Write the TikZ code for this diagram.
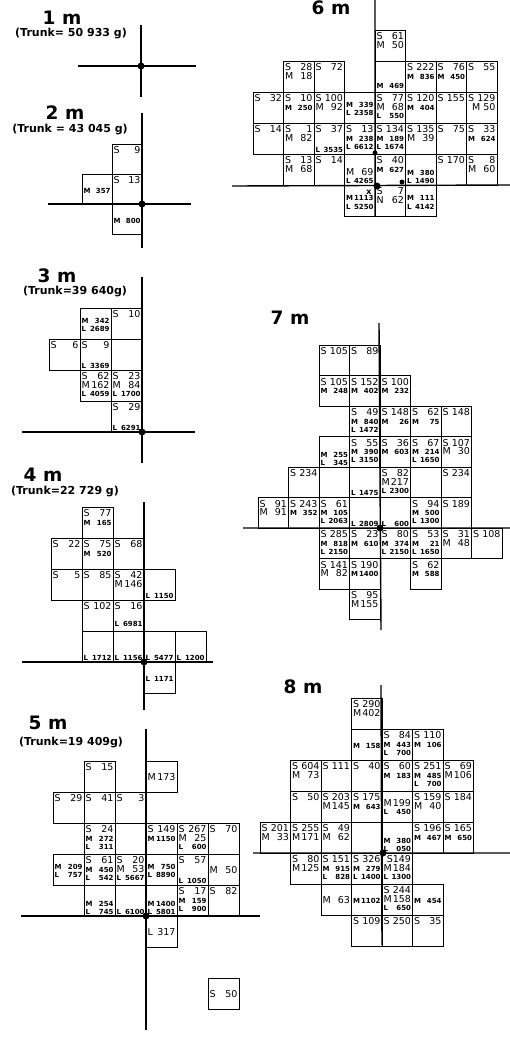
\documentclass[tikz,border=0pt]{standalone}
\usepackage{fontspec}
\setmainfont{DejaVu Sans}
\usetikzlibrary{positioning}

\newlength{\cellw}
\newlength{\cellh}
\newcommand{\sfn}{\fontsize{9.5}{9.5}\selectfont}
\newcommand{\mfn}{\fontsize{7}{7}\selectfont\bfseries}
\newcommand{\rw}[2]{\hbox to\linewidth{\sfn #1\hfil #2}}
\newcommand{\rs}[2]{\hbox to\linewidth{\mfn #1\hfil #2}}
% one square of the grid: [v-pos]{name}{column}{row}{lines}
\newcommand{\cell}[5][t]{%
  \node[cellbox] (#2) at ({#3+0.5},{#4+0.5})
    {\parbox[c][\cellh][#1]{\cellw}{\baselineskip=8.3pt\lineskiplimit=-20pt\null #5}};}

\begin{document}
\begin{tikzpicture}[x=1pt,y=-1pt,
  cellbox/.style={draw,line width=0.7pt,inner sep=1.5pt,outer sep=0pt,
    minimum width=\cellw+3pt,minimum height=\cellh+3pt},
  trunkline/.style={line width=1.4pt},
  trunkdot/.style={circle,fill,inner sep=0pt,minimum size=7pt},
  heading/.style={font=\fontsize{18.5}{19}\selectfont\bfseries,inner sep=0pt},
  trunknote/.style={font=\fontsize{11}{12}\selectfont\bfseries,inner sep=0pt}]

\useasboundingbox (0,0) rectangle (510,1042);
\clip (0,0) rectangle (510,1042);

% 1 m
\node[heading] (h1) at (62,18) {1 m};
\node[trunknote] (n1) at (71,34) {(Trunk= 50 933 g)};
\coordinate (t1a) at (141,25); \coordinate (t1b) at (141,97);
\coordinate (g1a) at (78,66); \coordinate (g1b) at (196,66);
\draw[trunkline] (t1a) -- (t1b) (g1a) -- (g1b);
\node[trunkdot] (d1) at (141,66) {};

% 2 m
\node[heading] (h2) at (65,113) {2 m};
\node[trunknote] (n2) at (70,130) {(Trunk = 43 045 g)};
\setlength{\cellw}{27pt}\setlength{\cellh}{27pt}
\begin{scope}[shift={(142,204)},x=30pt,y=30pt]
\cell{c2a}{-1}{1}{\rw{S}{9}}
\cell{c2b}{-1}{0}{\rw{S}{13}}
\cell[c]{c2c}{-2}{0}{\rs{M}{357}}
\cell[c]{c2d}{-1}{-1}{\rs{M}{800}}
\end{scope}
\coordinate (t2a) at (142,113); \coordinate (t2b) at (142,248);
\coordinate (g2a) at (48,204); \coordinate (g2b) at (191,204);
\draw[trunkline] (t2a) -- (t2b) (g2a) -- (g2b);
\node[trunkdot] (d2) at (142,204) {};

% 3 m
\node[heading] (h3) at (57,276) {3 m};
\node[trunknote] (n3) at (75,292) {(Trunk=39 640g)};
\setlength{\cellw}{28pt}\setlength{\cellh}{28pt}
\begin{scope}[shift={(142,432)},x=31pt,y=31pt]
\cell{c3a}{-1}{3}{\rw{S}{10}}
\cell[c]{c3b}{-2}{3}{\rs{M}{342}\rs{L}{2689}}
\cell{c3c}{-3}{2}{\rw{S}{6}}
\cell[s]{c3d}{-2}{2}{\rw{S}{9}\vfill\rs{L}{3369}}
\cell{c3e}{-1}{2}{}
\cell{c3f}{-2}{1}{\rw{S}{62}\rw{M}{162}\rs{L}{4059}}
\cell{c3g}{-1}{1}{\rw{S}{23}\rw{M}{84}\rs{L}{1700}}
\cell[s]{c3h}{-1}{0}{\rw{S}{29}\vfill\rs{L}{6291}}
\end{scope}
\coordinate (t3a) at (142,277); \coordinate (t3b) at (142,463);
\coordinate (g3a) at (22,432); \coordinate (g3b) at (195,432);
\draw[trunkline] (t3a) -- (t3b) (g3a) -- (g3b);
\node[trunkdot] (d3) at (142,432) {};

% 4 m
\node[heading] (h4) at (43,475) {4 m};
\node[trunknote] (n4) at (65,492) {(Trunk=22 729 g)};
\begin{scope}[shift={(144,662)},x=31pt,y=31pt]
\cell{c4a}{-2}{4}{\rw{S}{77}\rs{M}{165}}
\cell{c4b}{-3}{3}{\rw{S}{22}}
\cell{c4c}{-2}{3}{\rw{S}{75}\rs{M}{520}}
\cell{c4d}{-1}{3}{\rw{S}{68}}
\cell{c4e}{-3}{2}{\rw{S}{5}}
\cell{c4f}{-2}{2}{\rw{S}{85}}
\cell{c4g}{-1}{2}{\rw{S}{42}\rw{M}{146}}
\cell[b]{c4h}{0}{2}{\rs{L}{1150}}
\cell{c4i}{-2}{1}{\rw{S}{102}}
\cell[s]{c4j}{-1}{1}{\rw{S}{16}\vfill\rs{L}{6981}\vskip3pt}
\cell[b]{c4k}{-2}{0}{\rs{L}{1712}}
\cell[b]{c4l}{-1}{0}{\rs{L}{1156}}
\cell[b]{c4m}{0}{0}{\rs{L}{5477}}
\cell[b]{c4n}{1}{0}{\rs{L}{1200}}
\cell[c]{c4o}{0}{-1}{\rs{L}{1171}}
\end{scope}
\coordinate (t4a) at (144,502); \coordinate (t4b) at (144,710);
\coordinate (g4a) at (22,662); \coordinate (g4b) at (213,662);
\draw[trunkline] (t4a) -- (t4b) (g4a) -- (g4b);
\node[trunkdot] (d4) at (144,662) {};

% 5 m
\node[heading] (h5) at (48,723) {5 m};
\node[trunknote] (n5) at (71,742) {(Trunk=19 409g)};
\begin{scope}[shift={(146,916)},x=31pt,y=31pt]
\cell{c5a}{-2}{4}{\rw{S}{15}}
\cell[c]{c5b}{0}{4}{\rw{M}{173}}
\cell{c5c}{-3}{3}{\rw{S}{29}}
\cell{c5d}{-2}{3}{\rw{S}{41}}
\cell{c5e}{-1}{3}{\rw{S}{3}}
\cell{c5f}{-2}{2}{\rw{S}{24}\rs{M}{272}\rs{L}{311}}
\cell{c5g}{-1}{2}{}
\cell{c5h}{0}{2}{\rw{S}{149}\rs{M}{1150}}
\cell{c5i}{1}{2}{\rw{S}{267}\rw{M}{25}\rs{L}{600}}
\cell{c5j}{2}{2}{\rw{S}{70}}
\cell[c]{c5k}{-3}{1}{\rs{M}{209}\rs{L}{757}}
\cell{c5l}{-2}{1}{\rw{S}{61}\rs{M}{450}\rs{L}{542}}
\cell{c5m}{-1}{1}{\rw{S}{20}\rw{M}{53}\rs{L}{5667}}
\cell[c]{c5n}{0}{1}{\rs{M}{750}\rs{L}{8890}}
\cell[s]{c5o}{1}{1}{\rw{S}{57}\vfill\rs{L}{1050}}
\cell[c]{c5p}{2}{1}{\rw{M}{50}}
\cell[b]{c5q}{-2}{0}{\rs{M}{254}\rs{L}{745}}
\cell[b]{c5r}{-1}{0}{\rs{L}{6100}}
\cell[b]{c5s}{0}{0}{\rs{M}{1400}\rs{L}{5801}}
\cell{c5t}{1}{0}{\rw{S}{17}\rs{M}{159}\rs{L}{900}}
\cell{c5u}{2}{0}{\rw{S}{82}}
\cell[c]{c5v}{0}{-1}{\rw{L}{317}}
\cell[c]{c5w}{2}{-3}{\rw{S}{50}}
\end{scope}
\coordinate (t5a) at (146,729); \coordinate (t5b) at (146,1030);
\coordinate (g5a) at (21,916); \coordinate (g5b) at (260,916);
\draw[trunkline] (t5a) -- (t5b) (g5a) -- (g5b);
\node[trunkdot] (d5) at (146,916) {};

% 6 m
\node[heading] (h6) at (331,8) {6 m};
\setlength{\cellw}{27.5pt}\setlength{\cellh}{28pt}
\begin{scope}[shift={(375,185)},x=30.5pt,y=31pt]
\cell{c6a}{0}{4}{\rw{S}{61}\rw{M}{50}}
\cell{c6b}{-3}{3}{\rw{S}{28}\rw{M}{18}}
\cell{c6c}{-2}{3}{\rw{S}{72}}
\cell[b]{c6d}{0}{3}{\rs{M}{469}\vskip2pt}
\cell{c6e}{1}{3}{\rw{S}{222}\rs{M}{836}}
\cell{c6f}{2}{3}{\rw{S}{76}\rs{M}{450}}
\cell{c6g}{3}{3}{\rw{S}{55}}
\cell{c6h}{-4}{2}{\rw{S}{32}}
\cell{c6i}{-3}{2}{\rw{S}{10}\rs{M}{250}}
\cell{c6j}{-2}{2}{\rw{S}{100}\rw{M}{92}}
\cell[c]{c6k}{-1}{2}{\rs{M}{339}\rs{L}{2358}}
\cell{c6l}{0}{2}{\rw{S}{77}\rw{M}{68}\rs{L}{550}}
\cell{c6m}{1}{2}{\rw{S}{120}\rs{M}{404}}
\cell{c6n}{2}{2}{\rw{S}{155}}
\cell{c6o}{3}{2}{\rw{S}{129}\rw{}{M 50}}
\cell{c6p}{-4}{1}{\rw{S}{14}}
\cell{c6q}{-3}{1}{\rw{S}{1}\rw{M}{82}}
\cell[s]{c6r}{-2}{1}{\rw{S}{37}\vfill\rs{L}{3535}}
\cell{c6s}{-1}{1}{\rw{S}{13}\rs{M}{238}\rs{L}{6612}}
\cell{c6t}{0}{1}{\rw{S}{134}\rs{M}{189}\rs{L}{1674}}
\cell{c6u}{1}{1}{\rw{S}{135}\rw{M}{39}}
\cell{c6v}{2}{1}{\rw{S}{75}}
\cell{c6w}{3}{1}{\rw{S}{33}\rs{M}{624}}
\cell{c6x}{-3}{0}{\rw{S}{13}\rw{M}{68}}
\cell{c6y}{-2}{0}{\rw{S}{14}}
\cell[b]{c6z}{-1}{0}{\rw{M}{69}\rs{L}{4265}}
\cell{c6A}{0}{0}{\rw{S}{40}\rs{M}{627}}
\cell[b]{c6B}{1}{0}{\rs{M}{380}\rs{L}{1490}}
\cell{c6C}{2}{0}{\rw{S}{170}}
\cell{c6D}{3}{0}{\rw{S}{8}\rw{M}{60}}
\cell{c6E}{-1}{-1}{\vskip6pt\rs{M}{1113}\rs{L}{5250}}
\cell{c6F}{0}{-1}{\rw{S}{7}\rw{N}{62}}
\cell{c6G}{1}{-1}{\vskip6pt\rs{M}{111}\rs{L}{4142}}
\end{scope}
\node[font=\fontsize{8}{8}\selectfont\bfseries,inner sep=0pt] (x6) at (369,192) {x};
\coordinate (t6a) at (375,0); \coordinate (t6b) at (375,216);
\coordinate (g6a) at (232,186); \coordinate (g6b) at (510,185);
\draw[trunkline] (t6a) -- (t6b) (g6a) -- (g6b);
\node[trunkdot] (d6) at (377,186) {};
\node[trunkdot,minimum size=5pt] (d6b) at (375,153) {};
\node[trunkdot,minimum size=5pt] (d6c) at (402,182) {};

% 7 m
\node[heading] (h7) at (290,318) {7 m};
\setlength{\cellw}{27.5pt}\setlength{\cellh}{27.5pt}
\begin{scope}[shift={(380,528)},x=30.5pt,y=30.5pt]
\cell{c7a}{-2}{5}{\rw{S}{105}}
\cell{c7b}{-1}{5}{\rw{S}{89}}
\cell{c7c}{-2}{4}{\rw{S}{105}\rs{M}{248}}
\cell{c7d}{-1}{4}{\rw{S}{152}\rs{M}{402}}
\cell{c7e}{0}{4}{\rw{S}{100}\rs{M}{232}}
\cell{c7f}{-1}{3}{\rw{S}{49}\rs{M}{840}\rs{L}{1472}}
\cell{c7g}{0}{3}{\rw{S}{148}\rs{M}{26}}
\cell{c7h}{1}{3}{\rw{S}{62}\rs{M}{75}}
\cell{c7i}{2}{3}{\rw{S}{148}}
\cell[b]{c7j}{-2}{2}{\rs{M}{255}\rs{L}{345}}
\cell{c7k}{-1}{2}{\rw{S}{55}\rs{M}{390}\rs{L}{3150}}
\cell{c7l}{0}{2}{\rw{S}{36}\rs{M}{603}}
\cell{c7m}{1}{2}{\rw{S}{67}\rs{M}{214}\rs{L}{1650}}
\cell{c7n}{2}{2}{\rw{S}{107}\rw{M}{30}}
\cell{c7o}{-3}{1}{\rw{S}{234}}
\cell{c7p}{-2}{1}{}
\cell[b]{c7q}{-1}{1}{\rs{L}{1475}}
\cell{c7r}{0}{1}{\rw{S}{82}\rw{M}{217}\rs{L}{2300}}
\cell{c7s}{1}{1}{}
\cell{c7t}{2}{1}{\rw{S}{234}}
\cell{c7u}{-4}{0}{\rw{S}{91}\rw{M}{91}}
\cell{c7v}{-3}{0}{\rw{S}{243}\rs{M}{352}}
\cell{c7w}{-2}{0}{\rw{S}{61}\rs{M}{105}\rs{L}{2063}}
\cell[b]{c7x}{-1}{0}{\rs{L}{2809}}
\cell[b]{c7y}{0}{0}{\rs{L}{600}}
\cell{c7z}{1}{0}{\rw{S}{94}\rs{M}{500}\rs{L}{1300}}
\cell{c7A}{2}{0}{\rw{S}{189}}
\cell{c7B}{-2}{-1}{\rw{S}{285}\rs{M}{818}\rs{L}{2150}}
\cell{c7C}{-1}{-1}{\rw{S}{23}\rs{M}{610}}
\cell{c7D}{0}{-1}{\rw{S}{80}\rs{M}{374}\rs{L}{2150}}
\cell{c7E}{1}{-1}{\rw{S}{53}\rs{M}{21}\rs{L}{1650}}
\cell{c7F}{2}{-1}{\rw{S}{31}\rw{M}{48}}
\cell{c7G}{3}{-1}{\rw{S}{108}}
\cell{c7H}{-2}{-2}{\rw{S}{141}\rw{M}{82}}
\cell{c7I}{-1}{-2}{\rw{S}{190}\rs{M}{1400}}
\cell{c7J}{1}{-2}{\rw{S}{62}\rs{M}{588}}
\cell{c7K}{-1}{-3}{\rw{S}{95}\rw{M}{155}}
\end{scope}
\coordinate (t7a) at (379,323); \coordinate (t7b) at (381,630);
\coordinate (g7a) at (243,528); \coordinate (g7b) at (510,528);
\draw[trunkline] (t7a) -- (t7b) (g7a) -- (g7b);
\node[trunkdot] (d7) at (380,528) {};

% 8 m
\node[heading] (h8) at (303,687) {8 m};
\setlength{\cellw}{27.5pt}\setlength{\cellh}{28pt}
\begin{scope}[shift={(382,853)},x=30.5pt,y=31pt]
\cell{c8a}{-1}{4}{\rw{S}{290}\rw{M}{402}}
\cell[c]{c8b}{-1}{3}{\rs{M}{158}}
\cell{c8c}{0}{3}{\rw{S}{84}\rs{M}{443}\rs{L}{700}}
\cell{c8d}{1}{3}{\rw{S}{110}\rs{M}{106}}
\cell{c8e}{-3}{2}{\rw{S}{604}\rw{M}{73}}
\cell{c8f}{-2}{2}{\rw{S}{111}}
\cell{c8g}{-1}{2}{\rw{S}{40}}
\cell{c8h}{0}{2}{\rw{S}{60}\rs{M}{183}}
\cell{c8i}{1}{2}{\rw{S}{251}\rs{M}{485}\rs{L}{700}}
\cell{c8j}{2}{2}{\rw{S}{69}\rw{M}{106}}
\cell{c8k}{-3}{1}{\rw{S}{50}}
\cell{c8l}{-2}{1}{\rw{S}{203}\rw{M}{145}}
\cell{c8m}{-1}{1}{\rw{S}{175}\rs{M}{643}}
\cell[c]{c8n}{0}{1}{\rw{M}{199}\rs{L}{450}}
\cell{c8o}{1}{1}{\rw{S}{159}\rw{M}{40}}
\cell{c8p}{2}{1}{\rw{S}{184}}
\cell{c8q}{-4}{0}{\rw{S}{201}\rw{M}{33}}
\cell{c8r}{-3}{0}{\rw{S}{255}\rw{M}{171}}
\cell{c8s}{-2}{0}{\rw{S}{49}\rw{M}{62}}
\cell[b]{c8t}{0}{0}{\rs{M}{380}\rs{L}{050}}
\cell{c8u}{1}{0}{\rw{S}{196}\rs{M}{467}}
\cell{c8v}{2}{0}{\rw{S}{165}\rs{M}{650}}
\cell{c8w}{-3}{-1}{\rw{S}{80}\rw{M}{125}}
\cell{c8x}{-2}{-1}{\rw{S}{151}\rs{M}{915}\rs{L}{828}}
\cell{c8y}{-1}{-1}{\rw{S}{326}\rs{M}{279}\rs{L}{1400}}
\cell{c8z}{0}{-1}{\rw{}{S149}\rw{M}{184}\rs{L}{1300}}
\cell[c]{c8A}{-2}{-2}{\rw{M}{63}}
\cell[c]{c8B}{-1}{-2}{\rs{M}{1102}}
\cell{c8C}{0}{-2}{\rw{S}{244}\rw{M}{158}\rs{L}{650}}
\cell[c]{c8D}{1}{-2}{\rs{M}{454}}
\cell{c8E}{-1}{-3}{\rw{S}{109}}
\cell{c8F}{0}{-3}{\rw{S}{250}}
\cell{c8G}{1}{-3}{\rw{S}{35}}
\end{scope}
\coordinate (t8a) at (381,685); \coordinate (t8b) at (382,945);
\coordinate (g8a) at (253,853); \coordinate (g8b) at (510,853);
\draw[trunkline] (t8a) -- (t8b) (g8a) -- (g8b);
\node[trunkdot] (d8) at (383,853) {};
\end{tikzpicture}
\end{document}
